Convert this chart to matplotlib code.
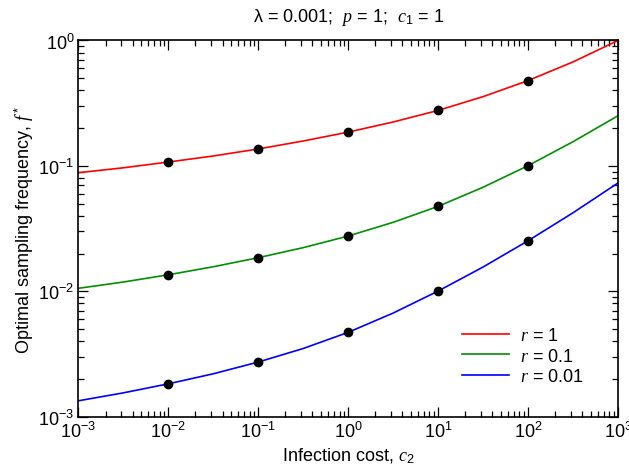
import matplotlib
matplotlib.use('Agg')
import matplotlib.pyplot as plt
from matplotlib.ticker import LogLocator, NullFormatter

plt.rcParams['font.family'] = ['Liberation Sans', 'DejaVu Sans']
plt.rcParams['mathtext.fontset'] = 'custom'
plt.rcParams['mathtext.rm'] = 'Liberation Sans'
plt.rcParams['mathtext.it'] = 'Liberation Serif:italic'
plt.rcParams['mathtext.bf'] = 'Liberation Sans:bold'

# infection cost c2 (decades and half-decades)
c2 = [1e-3, 10**-2.5, 1e-2, 10**-1.5, 1e-1, 10**-0.5, 1e0,
      10**0.5, 1e1, 10**1.5, 1e2, 10**2.5, 1e3]

# optimal sampling frequency f*
f_r1 = [0.0883, 0.0966, 0.1074, 0.120, 0.1365, 0.158, 0.186,
        0.224, 0.277, 0.357, 0.479, 0.675, 1.0]
f_r01 = [0.01057, 0.01186, 0.01355, 0.0157, 0.01854, 0.0223, 0.0276,
         0.0355, 0.0476, 0.0676, 0.1004, 0.156, 0.251]
f_r001 = [0.00134, 0.00155, 0.00183, 0.00220, 0.00273, 0.00350, 0.00471,
          0.00671, 0.01005, 0.01563, 0.0253, 0.0423, 0.0731]

# dots at the decade points 1e-2 .. 1e2
c2_dots = [1e-2, 1e-1, 1e0, 1e1, 1e2]
dots_r1 = [0.1074, 0.1365, 0.186, 0.277, 0.479]
dots_r01 = [0.01355, 0.01854, 0.0276, 0.0476, 0.1004]
dots_r001 = [0.00183, 0.00273, 0.00471, 0.01005, 0.0253]

fig = plt.figure(figsize=(6.29, 4.77), dpi=100)
ax = fig.add_axes([0.1248, 0.1243, 0.8577, 0.7887])

ax.plot(c2, f_r1, color='#ff0000', lw=1.2, label='$r$ = 1')
ax.plot(c2, f_r01, color='#009000', lw=1.2, label='$r$ = 0.1')
ax.plot(c2, f_r001, color='#0000ff', lw=1.2, label='$r$ = 0.01')
for ys in (dots_r1, dots_r01, dots_r001):
    ax.plot(c2_dots, ys, 'o', color='black', ms=6, zorder=5)

ax.set_xscale('log')
ax.set_yscale('log')
ax.set_xlim(1e-3, 1e3)
ax.set_ylim(1e-3, 1e0)

ax.xaxis.set_major_locator(LogLocator(base=10, numticks=10))
ax.yaxis.set_major_locator(LogLocator(base=10, numticks=10))
for a in (ax.xaxis, ax.yaxis):
    a.set_minor_locator(LogLocator(base=10, subs=range(2, 10), numticks=20))
    a.set_minor_formatter(NullFormatter())

ax.tick_params(which='both', direction='in', top=True, right=True,
               labelsize=13, width=0.9)
ax.tick_params(which='major', length=7, pad=3)
ax.tick_params(which='minor', length=4)
for s in ax.spines.values():
    s.set_linewidth(1.2)

ax.set_xlabel('Infection cost, $c_2$', fontsize=13, labelpad=3)
ax.set_ylabel('Optimal sampling frequency, $f^*$', fontsize=13, labelpad=2)
ax.set_title('λ = 0.001;  $p$ = 1;  $c_1$ = 1', fontsize=13, pad=14)

ax.legend(loc='lower right', frameon=False, fontsize=13, handlelength=2.6,
          handletextpad=0.6, labelspacing=0.2, bbox_to_anchor=(0.966, 0.04))

fig.savefig('out.png', dpi=100)
